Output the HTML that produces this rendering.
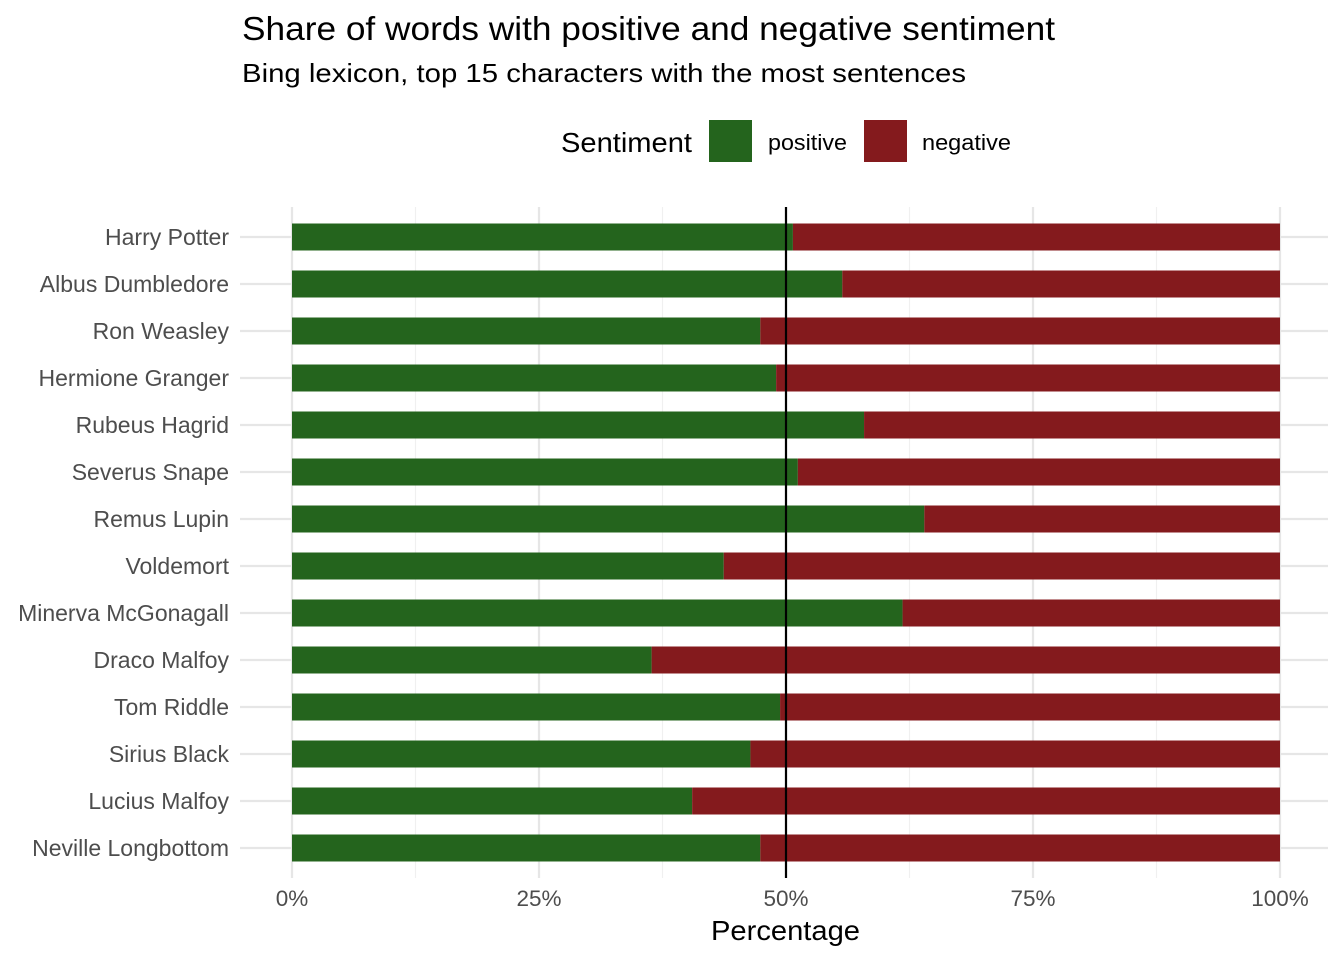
<!DOCTYPE html>
<html><head><meta charset="utf-8"><style>
body{margin:0;background:#fff;font-family:"Liberation Sans",Arial,sans-serif;}
</style></head><body>
<svg id="chart" width="1344" height="960" xmlns="http://www.w3.org/2000/svg" font-family="Liberation Sans, Arial, sans-serif">
<text x="242" y="40" font-size="33" textLength="813" lengthAdjust="spacingAndGlyphs" fill="#000">Share of words with positive and negative sentiment</text>
<text x="242" y="82" font-size="26" textLength="724" lengthAdjust="spacingAndGlyphs" fill="#000">Bing lexicon, top 15 characters with the most sentences</text>
<g>
<text x="561" y="152" font-size="28" textLength="131" lengthAdjust="spacingAndGlyphs">Sentiment</text>
<rect x="709" y="120" width="43" height="42" fill="#24641d"/>
<text x="768" y="150" font-size="22" textLength="79" lengthAdjust="spacingAndGlyphs">positive</text>
<rect x="864" y="120" width="43" height="42" fill="#841a1d"/>
<text x="922" y="150" font-size="22" textLength="89" lengthAdjust="spacingAndGlyphs">negative</text>
</g>
<g id="grid"></g><g id="bars"></g><g id="labels"></g>
<text x="711" y="940" font-size="28" textLength="149" lengthAdjust="spacingAndGlyphs">Percentage</text>
</svg>
<script>
const categories=["Harry Potter","Albus Dumbledore","Ron Weasley","Hermione Granger","Rubeus Hagrid","Severus Snape","Remus Lupin","Voldemort","Minerva McGonagall","Draco Malfoy","Tom Riddle","Sirius Black","Lucius Malfoy","Neville Longbottom"];
const positive=[0.507,0.557,0.474,0.490,0.579,0.512,0.640,0.437,0.618,0.364,0.494,0.464,0.405,0.474];
const tickValues=[0,0.25,0.5,0.75,1];
const tickLabels=["0%","25%","50%","75%","100%"];
const NS="http://www.w3.org/2000/svg";
const x0=292,x1=1280,yTop=237,step=47,bh=27;
const xs=v=>x0+v*(x1-x0);
const ys=i=>yTop+i*step;
function mk(tag,attrs,parent){const e=document.createElementNS(NS,tag);for(const k in attrs)e.setAttribute(k,attrs[k]);document.getElementById(parent).appendChild(e);return e;}
for(let i=0;i<4;i++){const v=tickValues[i]+0.125;
const l=mk("line",{x1:xs(v),x2:xs(v),y1:207,y2:878,stroke:"#f0f0f0","stroke-width":1.2},"grid");

}
tickValues.forEach((v,i)=>{
const l=mk("line",{x1:xs(v),x2:xs(v),y1:207,y2:878,stroke:"#e6e6e6","stroke-width":2.2},"grid");


const t=mk("text",{x:xs(v),y:906,"font-size":22.5,fill:"#4d4d4d","text-anchor":"middle"},"labels");
t.textContent=tickLabels[i];

});
categories.forEach((c,i)=>{
const y=ys(i);
const g=mk("line",{x1:240,x2:1328,y1:y,y2:y,stroke:"#e6e6e6","stroke-width":2.2},"grid");


const p=mk("rect",{x:xs(0),y:y-bh/2,width:xs(positive[i])-xs(0),height:bh,fill:"#24641d"},"bars");


const n=mk("rect",{x:xs(positive[i]),y:y-bh/2,width:xs(1)-xs(positive[i]),height:bh,fill:"#841a1d"},"bars");


const t=mk("text",{x:229,y:y+8,"font-size":23,fill:"#4d4d4d","text-anchor":"end"},"labels");
t.textContent=c;

});
const r=mk("line",{x1:xs(0.5),x2:xs(0.5),y1:207,y2:878,stroke:"#000","stroke-width":2.2},"bars");


</script>
</body></html>
